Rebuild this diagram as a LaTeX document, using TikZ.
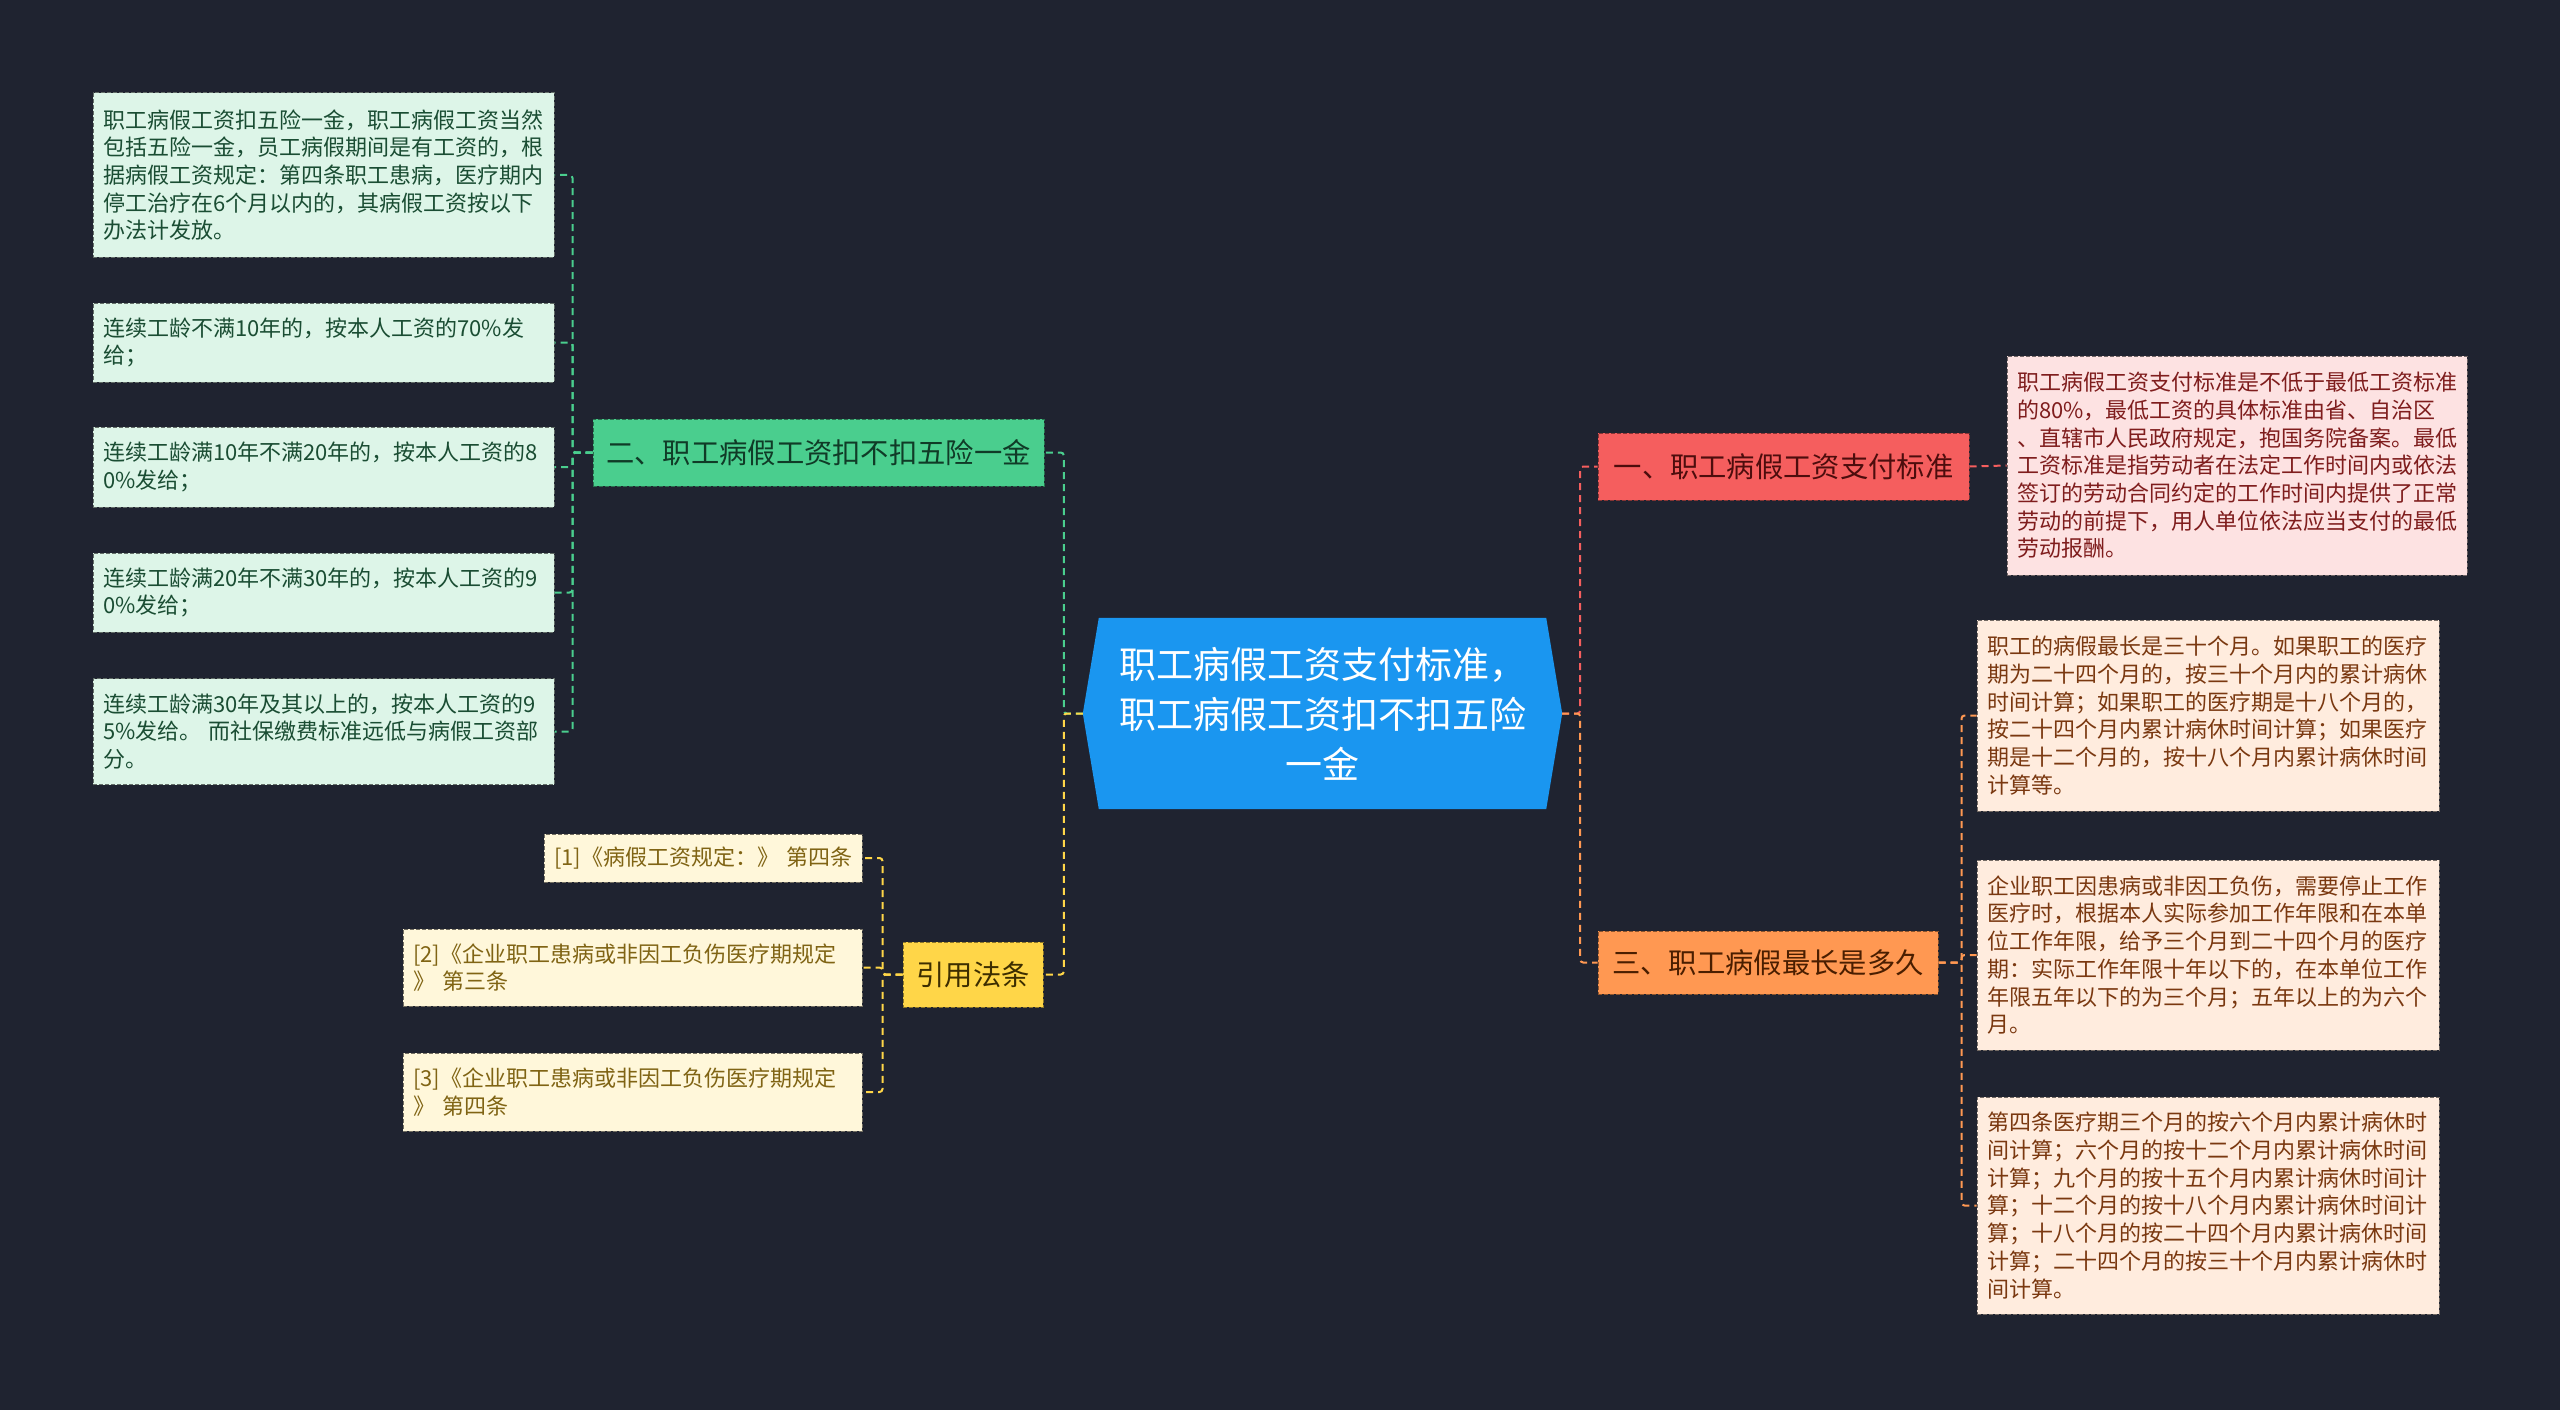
\documentclass[tikz,border=0pt]{standalone}
\usepackage{fontspec}
\newfontfamily\cjk{Noto Sans CJK SC}
\definecolor{bgc}{RGB}{31,35,48}
\definecolor{cblue}{RGB}{26,150,240}
\definecolor{gpar}{RGB}{74,206,142}
\definecolor{gkid}{RGB}{221,245,232}
\definecolor{gtxt}{RGB}{16,59,39}
\definecolor{gktxt}{RGB}{26,77,51}
\definecolor{rpar}{RGB}{245,94,94}
\definecolor{rkid}{RGB}{253,226,226}
\definecolor{rtxt}{RGB}{77,13,13}
\definecolor{rktxt}{RGB}{127,29,29}
\definecolor{opar}{RGB}{255,152,82}
\definecolor{okid}{RGB}{255,236,222}
\definecolor{otxt}{RGB}{74,30,0}
\definecolor{oktxt}{RGB}{122,56,16}
\definecolor{ypar}{RGB}{255,214,72}
\definecolor{ykid}{RGB}{255,247,218}
\definecolor{ytxt}{RGB}{61,46,0}
\definecolor{yktxt}{RGB}{128,100,20}
\pgfdeclarelayer{bgl}
\pgfdeclarelayer{shapel}
\pgfsetlayers{bgl,shapel,main}
\tikzset{
  box/.style={rectangle, draw, dash pattern=on 4pt off 2pt, line width=1pt, inner ysep=0pt},
  parent/.style={box, inner xsep=0pt, font=\cjk\fontsize{28.3pt}{34pt}\selectfont},
  kid/.style={box, inner xsep=10pt, align=left, font=\cjk\fontsize{22pt}{27.7pt}\selectfont},
  gp/.style={parent, fill=gpar, draw=gpar!55!black, text=gtxt},
  gk/.style={kid, fill=gkid, draw=gkid!45!black, text=gktxt, text width=441pt},
  rp/.style={parent, fill=rpar, draw=rpar!55!black, text=rtxt},
  rk/.style={kid, fill=rkid, draw=rkid!45!black, text=rktxt},
  op/.style={parent, fill=opar, draw=opar!55!black, text=otxt},
  ok/.style={kid, fill=okid, draw=okid!45!black, text=oktxt, text width=442pt},
  yp/.style={parent, fill=ypar, draw=ypar!55!black, text=ytxt},
  yk/.style={kid, fill=ykid, draw=ykid!45!black, text=yktxt},
  conn/.style={line width=2pt, dash pattern=on 7pt off 5pt, rounded corners=3pt},
}
\begin{document}
\begin{tikzpicture}[x=1pt,y=-1pt]
\begin{pgfonlayer}{bgl}
\fill[bgc] (0,0) rectangle (2560,1410);
\end{pgfonlayer}
\useasboundingbox (0,0) rectangle (2560,1410);

% center
\node[rectangle, inner sep=0pt, minimum width=447pt, minimum height=191pt, align=center, text=white,
  font=\cjk\fontsize{37pt}{50pt}\selectfont] (c) at (1322.5,713.5)
  {职工病假工资支付标准，\\职工病假工资扣不扣五险\\一金};
\begin{pgfonlayer}{shapel}
\fill[cblue] (c.north west) -- (c.north east) -- ([xshift=16pt]c.east) -- (c.south east)
  -- (c.south west) -- ([xshift=-16pt]c.west) -- cycle;
\end{pgfonlayer}
\coordinate (cl) at ([xshift=-16pt]c.west);
\coordinate (cr) at ([xshift=16pt]c.east);

% level 1
\node[gp, minimum width=451pt, minimum height=67pt] (g) at (818.5,452.5) {二、职工病假工资扣不扣五险一金};
\node[yp, minimum width=140pt, minimum height=65pt] (y) at (973,974.5) {引用法条};
\node[rp, minimum width=371pt, minimum height=67pt] (r) at (1783.5,466.5) {一、职工病假工资支付标准};
\node[op, minimum width=340pt, minimum height=63pt] (o) at (1768,962.5) {三、职工病假最长是多久};

% green children
\node[gk, minimum height=164pt] (g1) at (323.5,175) {职工病假工资扣五险一金，职工病假工资当然\\包括五险一金，员工病假期间是有工资的，根\\据病假工资规定：第四条职工患病，医疗期内\\停工治疗在6个月以内的，其病假工资按以下\\办法计发放。};
\node[gk, minimum height=79pt] (g2) at (323.5,342.5) {连续工龄不满10年的，按本人工资的70\%发\\给；};
\node[gk, minimum height=80pt] (g3) at (323.5,467) {连续工龄满10年不满20年的，按本人工资的8\\0\%发给；};
\node[gk, minimum height=79pt] (g4) at (323.5,592.5) {连续工龄满20年不满30年的，按本人工资的9\\0\%发给；};
\node[gk, minimum height=106pt] (g5) at (323.5,731.5) {连续工龄满30年及其以上的，按本人工资的9\\5\%发给。 而社保缴费标准远低与病假工资部\\分。};

% yellow children
\node[yk, text width=298pt, minimum height=48pt] (y1) at (703,858) {[1]《病假工资规定：》~第四条};
\node[yk, text width=439pt, minimum height=77pt] (y2) at (632.5,967.5) {[2]《企业职工患病或非因工负伤医疗期规定\\》~第三条};
\node[yk, text width=439pt, minimum height=78pt] (y3) at (632.5,1092) {[3]《企业职工患病或非因工负伤医疗期规定\\》~第四条};

% red child
\node[rk, text width=440pt, minimum height=219pt] (r1) at (2237,465.5) {职工病假工资支付标准是不低于最低工资标准\\的80\%，最低工资的具体标准由省、自治区\\、直辖市人民政府规定，抱国务院备案。最低\\工资标准是指劳动者在法定工作时间内或依法\\签订的劳动合同约定的工作时间内提供了正常\\劳动的前提下，用人单位依法应当支付的最低\\劳动报酬。};

% orange children
\node[ok, minimum height=191pt] (o1) at (2208,715.5) {职工的病假最长是三十个月。如果职工的医疗\\期为二十四个月的，按三十个月内的累计病休\\时间计算；如果职工的医疗期是十八个月的，\\按二十四个月内累计病休时间计算；如果医疗\\期是十二个月的，按十八个月内累计病休时间\\计算等。};
\node[ok, minimum height=190pt] (o2) at (2208,955) {企业职工因患病或非因工负伤，需要停止工作\\医疗时，根据本人实际参加工作年限和在本单\\位工作年限，给予三个月到二十四个月的医疗\\期：实际工作年限十年以下的，在本单位工作\\年限五年以下的为三个月；五年以上的为六个\\月。};
\node[ok, minimum height=217pt] (o3) at (2208,1205.5) {第四条医疗期三个月的按六个月内累计病休时\\间计算；六个月的按十二个月内累计病休时间\\计算；九个月的按十五个月内累计病休时间计\\算；十二个月的按十八个月内累计病休时间计\\算；十八个月的按二十四个月内累计病休时间\\计算；二十四个月的按三十个月内累计病休时\\间计算。};

% connectors from center
\draw[conn, gpar] (cl) -- ([xshift=-19pt]cl) |- (g.east);
\draw[conn, ypar] (cl) -- ([xshift=-19pt]cl) |- (y.east);
\draw[conn, rpar] (cr) -- ([xshift=18pt]cr) |- (r.west);
\draw[conn, opar] (cr) -- ([xshift=18pt]cr) |- (o.west);

% green
\foreach \k in {g1,g2,g3,g4,g5}
  \draw[conn, gpar] (g.west) -- ([xshift=-20pt]g.west) |- (\k.east);
% yellow
\foreach \k in {y1,y2,y3}
  \draw[conn, ypar] (y.west) -- ([xshift=-20pt]y.west) |- (\k.east);
% red
\draw[conn, rpar] (r.east) -- (r1.west);
% orange
\foreach \k in {o1,o2,o3}
  \draw[conn, opar] (o.east) -- ([xshift=23pt]o.east) |- (\k.west);
\end{tikzpicture}
\end{document}
